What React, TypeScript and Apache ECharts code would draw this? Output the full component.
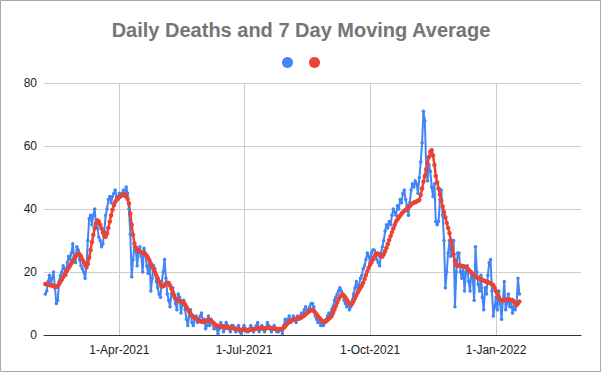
import React, { useEffect, useRef } from "react";
import * as echarts from "echarts";

// First day of data and axis range
const startDate = "2021-02-06";
const axisMinDate = "2021-02-05";
const axisMaxDate = "2022-03-04";

// Quarter tick labels
const tickDates = ["2021-04-01", "2021-07-01", "2021-10-01", "2022-01-01"];
const tickLabels = ["1-Apr-2021", "1-Jul-2021", "1-Oct-2021", "1-Jan-2022"];

// Daily deaths (one value per day, from startDate)
const dailyDeaths = [
  13, 14, 17, 19, 16, 18, 20,
  15, 10, 11, 17, 19, 20, 22,
  21, 19, 23, 25, 24, 26, 29,
  25, 23, 28, 27, 24, 22, 21,
  20, 18, 22, 30, 37, 38, 35,
  38, 40, 35, 34, 31, 30, 28,
  29, 33, 38, 40, 43, 44, 42,
  44, 45, 46, 44, 43, 45, 44,
  45, 46, 44, 47, 45, 40, 32,
  18.5, 24, 28, 27, 22, 26, 28,
  25, 20, 27.5, 26, 22, 19.6, 24,
  14, 18, 22, 21, 17, 15, 13,
  12, 17, 20, 24, 18, 13, 11,
  9, 13, 15, 12, 10, 8, 13,
  12, 7, 10, 11, 8, 5, 3,
  6, 8, 4, 3, 5, 6, 4,
  5, 6, 7, 4, 5, 2, 3,
  6, 3, 5, 4, 2, 3, 2, 0.5,
  2, 4, 3, 1, 2, 4, 3, 2, 1, 3,
  3, 2, 1, 2, 3, 1, 0.5, 2, 3, 2,
  1, 1, 2, 3, 2, 1, 2, 3, 4, 1,
  2, 3, 2, 1, 2, 4, 3, 2, 1, 2,
  3, 2, 1, 1, 2, 2, 0.5,
  3, 5, 4, 5, 6, 4, 5, 6, 5, 4, 6, 5, 6,
  7, 6, 8, 9, 7, 8, 9, 10, 10,
  9, 6, 5, 4, 5, 3, 4, 3, 4,
  5, 6, 7, 6, 8,
  9, 11, 12, 13, 14, 15, 14,
  13, 11, 10, 9, 10, 8, 9,
  11, 13, 15, 17, 14, 16, 18, 19,
  21, 22, 24, 26, 25, 23, 26,
  27, 27, 26, 24, 23, 22, 26, 28,
  30, 33, 35, 34, 36, 35, 38, 40, 39, 38,
  41, 40, 43, 42, 45, 46, 43,
  41, 38, 42, 46, 48, 47, 49, 48, 45,
  50, 55, 61, 71, 68, 53, 49, 54, 52, 47,
  44, 48, 36, 35, 36, 43, 46, 38, 30, 15,
  20, 26, 30, 25, 28, 30, 9, 20, 26, 26,
  20, 18, 22, 14, 20, 22, 17, 14, 20, 18,
  11, 28, 20, 16, 14, 19, 12, 8, 15, 13,
  19, 23, 24, 14, 6, 9, 12, 8, 14, 10,
  5, 11, 17, 8, 10, 13, 9, 11, 7, 9,
  8, 10, 18, 13,
];

// 7 day moving average (one value per day, from startDate)
const movingAverage = [
  16.2, 16.1, 16.0, 15.9, 15.8, 15.7, 15.6, 15.4, 15.3,
  15.6, 16.2, 16.9, 17.6, 18.4, 19.2, 19.9,
  20.6, 21.3, 22.0, 22.8, 23.5, 24.2, 24.9, 25.5, 25.9,
  25.6, 24.9, 24.0, 23.1, 22.2, 21.5,
  22.5, 24.6, 27.0, 29.5, 31.8, 33.9, 35.5, 36.4,
  36.0, 35.0, 33.8, 32.5, 31.6, 31.2,
  32.2, 34.0, 36.0, 38.0, 39.8, 41.2, 42.2,
  42.9, 43.4, 43.8, 44.1, 44.4, 44.6, 44.7,
  44.2, 43.2, 41.8, 38.5, 35.0, 31.8, 29.1,
  27.8, 27.1, 26.7, 26.5, 26.3, 26.1, 25.9, 25.6, 25.2,
  24.5, 23.6, 22.6, 21.6, 20.7, 19.9, 19.0, 18.0, 17.0, 16.0, 15.4,
  15.5, 15.9, 16.3, 16.6, 16.5,
  15.7, 14.7, 13.6, 12.6, 11.6, 11.1,
  10.9, 10.8, 10.7, 10.6, 10.3,
  9.6, 8.9, 8.1, 7.4, 6.7, 6.2, 5.8,
  5.5, 5.2, 4.9, 4.6, 4.4, 4.3, 4.2,
  4.3, 4.5, 4.7, 4.8, 4.8,
  4.5, 4.1, 3.7, 3.3, 3.0, 2.8, 2.6,
  2.6, 2.7, 2.8, 2.7, 2.5, 2.4, 2.3, 2.3, 2.2, 2.2,
  2.1, 2.0, 1.9, 1.8, 1.7, 1.6, 1.6, 1.7, 1.7, 1.6, 1.6, 1.6,
  1.7, 1.8, 1.9, 2.0, 2.1, 2.1, 2.2, 2.2, 2.1, 2.1, 2.1, 2.1,
  2.2, 2.3, 2.3, 2.2, 2.1, 2.0, 2.0, 1.9, 1.9, 1.8, 1.8, 1.9,
  2.3, 2.8, 3.3, 3.8, 4.2,
  4.5, 4.7, 4.9, 5.0, 5.1, 5.2, 5.3, 5.4,
  5.6, 5.9, 6.2, 6.6, 7.0, 7.4, 7.7, 7.9, 7.9,
  7.6, 7.1, 6.5, 6.0, 5.4, 4.9, 4.5, 4.3, 4.2,
  4.4, 4.8, 5.2, 5.6, 6.0,
  7.0, 8.1, 9.2, 10.3, 11.3, 12.1, 12.7,
  12.8, 12.5, 11.9, 11.2, 10.5, 10.0, 9.7,
  10.0, 10.8, 11.7, 12.6, 13.5, 14.3, 15.0, 15.6,
  16.6, 17.8, 19.0, 20.2, 21.3, 22.3, 23.0,
  23.9, 24.8, 25.6, 25.9, 25.7, 25.3, 25.0, 24.9,
  25.6, 26.6, 27.7, 28.9, 30.2, 31.4, 32.6, 33.8, 35.0, 36.0,
  36.7, 37.3, 37.9, 38.5, 39.0, 39.4, 39.7,
  40.1, 40.5, 40.9, 41.4, 41.8, 42.0, 42.2, 42.4, 42.6, 42.9,
  44.5, 46.5, 48.7, 50.5, 52.5, 54.5, 56.5, 58.2,
  58.7, 57.0, 54.0, 50.5,
  48.5, 46.5, 44.6, 42.7, 40.8,
  39.0, 37.3, 35.6, 34.0, 32.3,
  30.0, 27.8, 25.6, 23.6, 22.2,
  22.0, 22.1, 22.0, 21.9, 21.8, 21.7, 21.6,
  21.2, 20.7, 20.2, 19.8, 19.4, 19.0, 18.5,
  18.3, 18.1, 17.9, 17.7, 17.5, 17.3, 17.1, 16.9,
  16.8, 16.6, 16.4, 16.1, 15.8,
  14.9, 13.9, 12.9, 12.0, 11.2,
  11.0, 11.0, 11.1, 11.2, 11.3, 11.2, 11.2, 11.1, 11.1,
  10.6, 10.0, 9.5, 10.1, 10.6,
];

const yTicks = [0, 20, 40, 60, 80];
const seriesNames = ["Daily Deaths", "7 Day Moving Average"];

const DAY = 86400000;
const toTs = (s: string) => {
  const [y, m, d] = s.split("-").map(Number);
  return Date.UTC(y, m - 1, d);
};

export default function App() {
  const ref = useRef<HTMLDivElement>(null);
  useEffect(() => {
    if (!ref.current) return;
    const chart = echarts.init(ref.current, null, { renderer: "svg" });
    const t0 = toTs(startDate);
    const blue = dailyDeaths.map((v, i) => [t0 + i * DAY, v]);
    const red = movingAverage.map((v, i) => [t0 + i * DAY, v]);
    const tickTs = tickDates.map(toTs);
    const font = "Arial, 'Liberation Sans', sans-serif";
    chart.setOption({
      animation: false,
      backgroundColor: "#ffffff",
      title: {
        text: "Daily Deaths and 7 Day Moving Average",
        left: "center",
        top: 15,
        textStyle: { fontSize: 20, fontWeight: "bold", color: "#757575", fontFamily: font },
      },
      legend: {
        top: 52,
        left: "center",
        icon: "circle",
        itemWidth: 11,
        itemHeight: 11,
        itemGap: 16,
        formatter: () => "",
        data: seriesNames,
        textStyle: { fontSize: 1 },
      },
      grid: { left: 44, right: 21, top: 83, bottom: 38, containLabel: false },
      xAxis: {
        type: "value",
        min: toTs(axisMinDate),
        max: toTs(axisMaxDate),
        axisLine: { show: true, lineStyle: { color: "#333333", width: 1 } },
        axisTick: { show: false, customValues: tickTs },
        axisLabel: {
          customValues: tickTs,
          formatter: (val: number) => {
            const idx = tickTs.indexOf(val);
            return idx >= 0 ? tickLabels[idx] : "";
          },
          color: "#222222",
          fontSize: 12,
          fontFamily: font,
          margin: 9,
          hideOverlap: false,
        },
        splitLine: { show: true, lineStyle: { color: "#cccccc", width: 1 } },
      },
      yAxis: {
        type: "value",
        min: yTicks[0],
        max: yTicks[yTicks.length - 1],
        interval: 20,
        axisLine: { show: false },
        axisTick: { show: false },
        axisLabel: { color: "#222222", fontSize: 12, fontFamily: font, margin: 7 },
        splitLine: { lineStyle: { color: "#cccccc", width: 1 } },
      },
      series: [
        {
          name: seriesNames[0],
          type: "line",
          data: blue,
          color: "#4285F4",
          lineStyle: { width: 2, color: "#4285F4" },
          symbol: "circle",
          symbolSize: 3.5,
          showSymbol: true,
          itemStyle: { color: "#4285F4" },
        },
        {
          name: seriesNames[1],
          type: "line",
          data: red,
          color: "#EA4335",
          lineStyle: { width: 2.5, color: "#EA4335" },
          symbol: "circle",
          symbolSize: 4.5,
          showSymbol: true,
          itemStyle: { color: "#EA4335" },
        },
      ],
      graphic: [
        {
          type: "rect",
          shape: { x: 0.5, y: 0.5, width: 600, height: 371 },
          style: { fill: "none", stroke: "#a8a8a8", lineWidth: 1 },
          silent: true,
        },
      ],
    });
    return () => chart.dispose();
  }, []);
  return (
    <div
      ref={ref}
      style={{ position: "fixed", left: 0, top: 0, width: 602, height: 373 }}
    />
  );
}
